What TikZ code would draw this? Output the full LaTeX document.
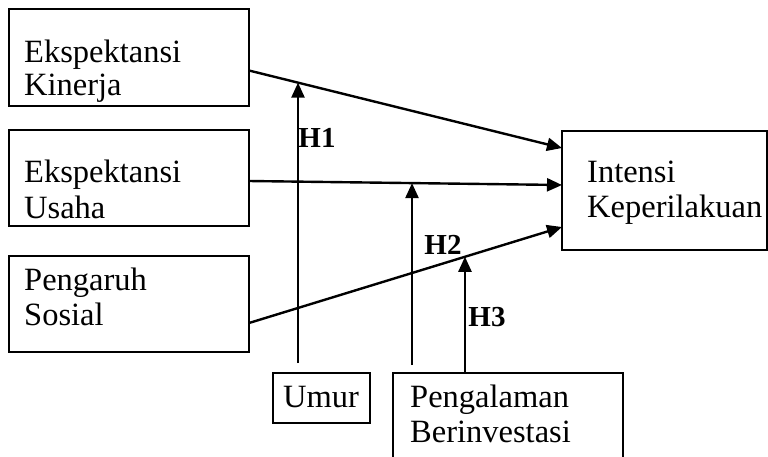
\documentclass[tikz,border=0pt]{standalone}
\usepackage{fontspec}
\setmainfont{Liberation Serif}
\usetikzlibrary{arrows.meta,calc}

\tikzset{
  box/.style={draw, line width=1.3pt, rectangle, anchor=north west, inner sep=0pt, outer sep=0pt},
  word/.style={anchor=base west, inner sep=0pt, font=\fontsize{32.5}{35}\selectfont},
  hyp/.style={anchor=center, inner sep=0pt, font=\fontsize{29}{34}\selectfont\bfseries},
  link/.style={line width=2.4pt, -{Triangle[length=15pt,width=13pt]}, shorten >=0pt},
}

\begin{document}
\begin{tikzpicture}[x=1pt,y=-1pt]
  \useasboundingbox (0,0) rectangle (768,456);
  \clip (0,0) rectangle (768,456);

  % construct boxes
  \node[box, minimum width=240pt, minimum height=97pt] (kin) at (9,9) {};
  \node[box, minimum width=240pt, minimum height=96pt] (usa) at (9,130) {};
  \node[box, minimum width=240pt, minimum height=96pt] (sos) at (9,256) {};
  \node[box, minimum width=205pt, minimum height=119pt] (int) at (562,131) {};
  \node[box, minimum width=97pt, minimum height=50pt] (umur) at (273,373) {};
  \node[box, minimum width=230pt, minimum height=100pt] (peng) at (393,373) {};

  % box texts
  \node[word] (kin1) at (24,62) {Ekspektansi};
  \node[word] (kin2) at (24,95) {Kinerja};
  \node[word] (usa1) at (24,182.5) {Ekspektansi};
  \node[word] (usa2) at (24,218.5) {Usaha};
  \node[word] (sos1) at (24,290) {Pengaruh};
  \node[word] (sos2) at (24,325) {Sosial};
  \node[word] (int1) at (587,182) {Intensi};
  \node[word] (int2) at (587,217) {Keperilakuan};
  \node[word] (umur1) at (283,407) {Umur};
  \node[word] (peng1) at (410,407) {Pengalaman};
  \node[word] (peng2) at (410,442) {Berinvestasi};

  % end points of the paths into the outcome box
  \coordinate (kinout) at ([yshift=-13pt]kin.east);
  \coordinate (usaout) at ([yshift=-3pt]usa.east);
  \coordinate (sosout) at ([yshift=-19pt]sos.east);
  \coordinate (intA) at ([yshift=42.5pt]int.west);
  \coordinate (intB) at ([yshift=5.5pt]int.west);
  \coordinate (intC) at ([yshift=-36.5pt]int.west);

  % main paths
  \draw[link] (kinout) -- (intA);
  \draw[link] (usaout) -- (intB);
  \draw[link] (sosout) -- (intC);

  % moderator targets on the main paths
  \coordinate (m1) at ($(kinout)!0.1565!(intA)$);
  \coordinate (m2) at ($(usaout)!0.521!(intB)$);
  \coordinate (m3) at ($(sosout)!0.690!(intC)$);
  \coordinate (umurtop) at ([xshift=-23.5pt,yshift=10pt]umur.north);
  \coordinate (pengA) at ([xshift=-96pt,yshift=8pt]peng.north);

  \draw[link] (umurtop) -- (umurtop |- m1);
  \draw[link] (pengA) -- (pengA |- m2);
  \draw[link] (peng.north -| m3) -- (m3);

  % hypothesis labels
  \node[hyp] (h1) at (317,138) {H1};
  \node[hyp] (h2) at (443,245) {H2};
  \node[hyp] (h3) at (487,317) {H3};
\end{tikzpicture}
\end{document}
